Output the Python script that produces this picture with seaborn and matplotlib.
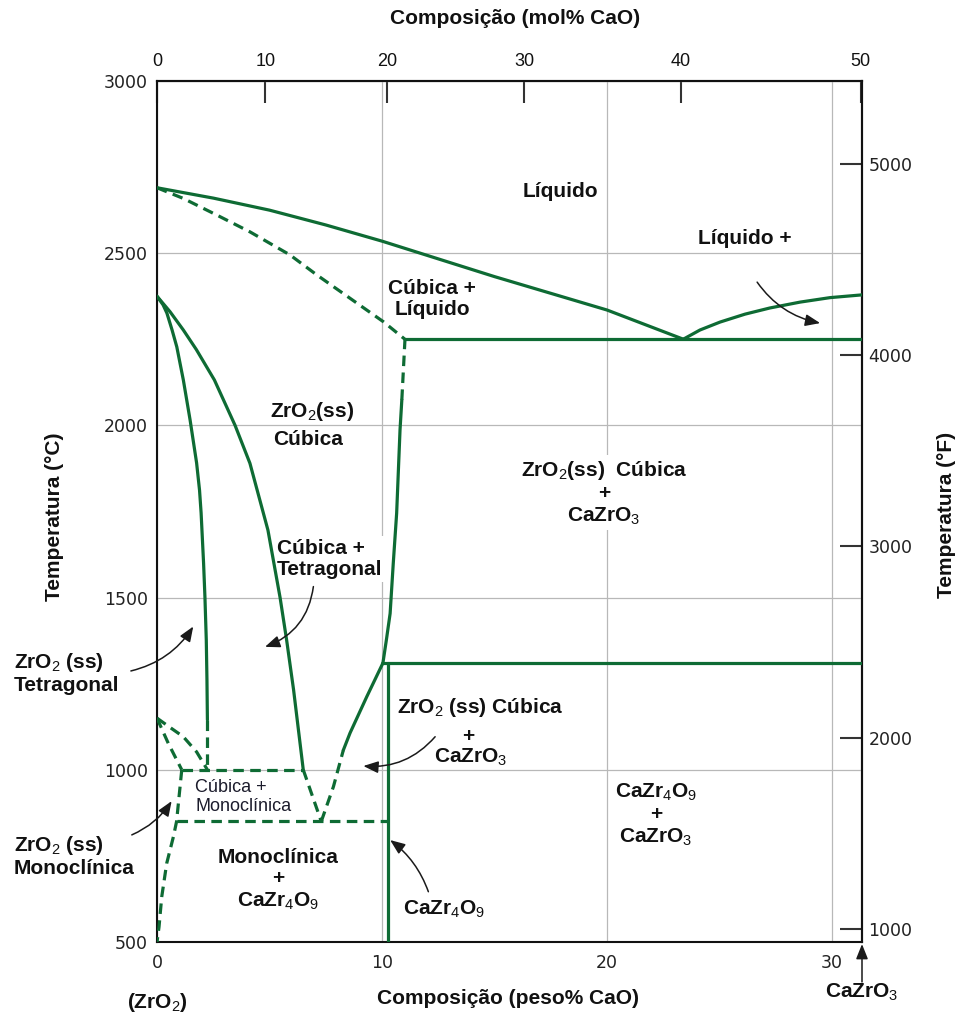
import numpy as np
import matplotlib
matplotlib.use("Agg")
import matplotlib.pyplot as plt
import seaborn as sns
from matplotlib import font_manager

# ---------------- phase boundaries: composition (wt% CaO), temperature (°C) ----------------
liquidus_zro2_wt = [0, 2.5, 5, 7.5, 10, 15, 20, 23.4]
liquidus_zro2_t = [2690, 2660, 2625, 2582, 2535, 2432, 2335, 2250]

liquidus_cazro3_wt = [23.38, 24.13, 25.02, 26.13, 27.24, 28.58, 29.91, 31.33]
liquidus_cazro3_t = [2250, 2277, 2300, 2323, 2341, 2358, 2371, 2379]

solidus_cubic_wt = [0, 1.17, 2.65, 4.13, 5.91, 7.1, 8.58, 10.06, 11.02]
solidus_cubic_t = [2690, 2659, 2611, 2562, 2495, 2437, 2369, 2301, 2250]

eutectic_wt = [11.02, 31.33]
eutectic_t = [2250, 2250]

# cubic solvus towards CaZrO3
cubic_solvus_top_wt = [10.88, 11.02]
cubic_solvus_top_t = [2074, 2250]
cubic_solvus_wt = [8.28, 8.58, 9.32, 10.04, 10.2, 10.36, 10.5, 10.65, 10.8, 10.88]
cubic_solvus_t = [1057, 1107, 1212, 1310, 1380, 1454, 1600, 1745, 1987, 2074]
cubic_solvus_low_wt = [7.3, 7.84, 8.28]
cubic_solvus_low_t = [850, 951, 1057]

# tetragonal / cubic+tetragonal boundary
tetragonal_wt = [0, 0.27, 0.44, 0.67, 0.88, 1.17, 1.47, 1.76, 1.89, 1.96, 2.07,
                 2.13, 2.19, 2.22, 2.24]
tetragonal_t = [2375, 2350, 2326, 2277, 2228, 2132, 2016, 1891, 1812, 1746, 1600,
                1502, 1377, 1261, 1145]
tetragonal_low_wt = [2.24, 2.24]
tetragonal_low_t = [1145, 1000]

# cubic+tetragonal / cubic boundary
cubic_tetra_wt = [0, 0.58, 1.17, 1.75, 2.55, 3.47, 4.13, 4.93, 5.47, 5.76, 6.07, 6.5]
cubic_tetra_t = [2375, 2330, 2277, 2220, 2132, 2000, 1890, 1696, 1500, 1377, 1232, 1000]
cubic_tetra_low_wt = [6.5, 7.3]
cubic_tetra_low_t = [1000, 850]

# tetragonal -> monoclinic transformation
transform_upper_wt = [0, 0.58, 1.17, 1.76, 2.24]
transform_upper_t = [1150, 1123, 1096, 1052, 1000]
transform_lower_wt = [0, 0.5, 1.1]
transform_lower_t = [1150, 1077, 1000]

monoclinic_wt = [1.1, 0.87, 0.73, 0.43, 0.21, 0.09, 0]
monoclinic_t = [1000, 850, 806, 728, 631, 544, 500]

iso_1000_wt = [1.1, 6.5]
iso_1000_t = [1000, 1000]
iso_850_wt = [0.87, 10.25]
iso_850_t = [850, 850]

cazr4o9_wt = [10.25, 10.25]
cazr4o9_t = [500, 1310]
iso_1310_wt = [10.0, 31.33]
iso_1310_t = [1310, 1310]

# ---------------- axes ticks ----------------
wt_ticks = [0, 10, 20, 30]
wt_labels = ["0", "10", "20", "30"]
mol_ticks = [0, 10, 20, 30, 40, 50]
mol_labels = ["0", "10", "20", "30", "40", "50"]
c_ticks = [500, 1000, 1500, 2000, 2500, 3000]
c_labels = ["500", "1000", "1500", "2000", "2500", "3000"]
f_ticks = [1000, 2000, 3000, 4000, 5000]
f_labels = ["1000", "2000", "3000", "4000", "5000"]

M_CAO, M_ZRO2 = 56.08, 123.22


def wt_to_mol(w):
    w = np.asarray(w, dtype=float)
    n_cao = w / M_CAO
    n_zro2 = (100.0 - w) / M_ZRO2
    with np.errstate(divide="ignore", invalid="ignore"):
        return 100.0 * n_cao / (n_cao + n_zro2)


def mol_to_wt(m):
    m = np.asarray(m, dtype=float)
    g_cao = m * M_CAO
    g_zro2 = (100.0 - m) * M_ZRO2
    with np.errstate(divide="ignore", invalid="ignore"):
        return 100.0 * g_cao / (g_cao + g_zro2)


def c_to_f(c):
    return np.asarray(c, dtype=float) * 9.0 / 5.0 + 32.0


def f_to_c(f):
    return (np.asarray(f, dtype=float) - 32.0) * 5.0 / 9.0


# ---------------- style ----------------
sns.set_style("white")
plt.rcParams["font.family"] = ["DejaVu Sans"]
plt.rcParams["mathtext.fontset"] = "custom"
plt.rcParams["mathtext.rm"] = "Liberation Sans"
plt.rcParams["mathtext.default"] = "rm"

installed = {f.name for f in font_manager.fontManager.ttflist}
HAS_NARROW = "Liberation Sans Narrow" in installed
NARROW = ["Liberation Sans Narrow", "Liberation Sans"]
TITLE_SIZE = 18 if HAS_NARROW else 15
TOP_TICK_SIZE = 15 if HAS_NARROW else 13

GREEN = "#0e6b34"
GRID = "#b8b8b8"
INK = "#111111"
LW = 2.3
DASH = (0, (3.3, 2.0))

fig = plt.figure(figsize=(9.6, 10.19), dpi=100)
fig.patch.set_facecolor("white")
ax = fig.add_axes([157 / 960, 1 - 942 / 1019, 705 / 960, 861 / 1019])
ax.set_xlim(0, 31.33)
ax.set_ylim(500, 3000)

ax.set_xticks(wt_ticks)
ax.set_xticklabels(wt_labels)
ax.set_yticks(c_ticks)
ax.set_yticklabels(c_labels)
ax.grid(True, color=GRID, lw=0.9)
ax.set_axisbelow(True)
ax.tick_params(axis="both", which="both", direction="in", length=15.5, width=1.5,
               color="#222222", labelcolor="#222222", labelsize=12.5,
               top=False, right=False)
ax.tick_params(axis="y", pad=6.5)
ax.tick_params(axis="x", pad=9)
for s in ax.spines.values():
    s.set_color("#111111")
    s.set_linewidth(1.5)


def boundary(xs, ys, dashed=False):
    kw = dict(linestyle=DASH) if dashed else {}
    sns.lineplot(x=xs, y=ys, ax=ax, sort=False, estimator=None, color=GREEN,
                 lw=LW, zorder=4, **kw)


boundary(liquidus_zro2_wt, liquidus_zro2_t)
boundary(liquidus_cazro3_wt, liquidus_cazro3_t)
boundary(solidus_cubic_wt, solidus_cubic_t, dashed=True)
boundary(eutectic_wt, eutectic_t)
boundary(cubic_solvus_top_wt, cubic_solvus_top_t, dashed=True)
boundary(cubic_solvus_wt, cubic_solvus_t)
boundary(cubic_solvus_low_wt, cubic_solvus_low_t, dashed=True)
boundary(tetragonal_wt, tetragonal_t)
boundary(tetragonal_low_wt, tetragonal_low_t, dashed=True)
boundary(cubic_tetra_wt, cubic_tetra_t)
boundary(cubic_tetra_low_wt, cubic_tetra_low_t, dashed=True)
boundary(transform_upper_wt, transform_upper_t, dashed=True)
boundary(transform_lower_wt, transform_lower_t, dashed=True)
boundary(monoclinic_wt, monoclinic_t, dashed=True)
boundary(iso_1000_wt, iso_1000_t, dashed=True)
boundary(iso_850_wt, iso_850_t, dashed=True)
boundary(cazr4o9_wt, cazr4o9_t)
boundary(iso_1310_wt, iso_1310_t)
ax.set_xlabel("")
ax.set_ylabel("")

# ---------------- secondary scales ----------------
top = ax.secondary_xaxis("top", functions=(wt_to_mol, mol_to_wt))
top.set_xticks(mol_ticks)
top.set_xticklabels(mol_labels)
top.tick_params(direction="in", length=15.5, width=1.5, color="#333333",
                labelcolor="#111111", labelsize=TOP_TICK_SIZE, pad=8)
for lab in top.get_xticklabels():
    lab.set_fontfamily(NARROW)

right = ax.secondary_yaxis("right", functions=(c_to_f, f_to_c))
right.set_yticks(f_ticks)
right.set_yticklabels(f_labels)
right.tick_params(direction="in", length=15.5, width=1.5, color="#333333",
                  labelcolor="#222222", labelsize=12.5, pad=4.5)
for sec in (top, right):
    for s in sec.spines.values():
        s.set_color("#111111")
        s.set_linewidth(1.5)

# ---------------- axis titles ----------------
title_kw = dict(fontsize=TITLE_SIZE, fontweight="bold", family=NARROW, color=INK,
                ha="center", va="center")
fig.text(515 / 960, 1 - 18 / 1019, "Composição (mol% CaO)", **title_kw)
fig.text(508 / 960, 1 - 998 / 1019, "Composição (peso% CaO)", **title_kw)
fig.text(55 / 960, 1 - 517 / 1019, "Temperatura (°C)", rotation=90, **title_kw)
fig.text(946 / 960, 1 - 515 / 1019, "Temperatura (°F)", rotation=90, **title_kw)

# ---------------- phase labels ----------------
BOLD = dict(fontsize=15, fontweight="bold", family="Liberation Sans", color=INK,
            zorder=3, linespacing=1.15)
BOX = dict(boxstyle="square,pad=0.15", fc="white", ec="none")

ax.text(17.91, 2678, "Líquido", ha="center", va="center", **BOLD)
ax.text(26.13, 2544, "Líquido +", ha="center", va="center", bbox=BOX, **BOLD)
ax.text(12.22, 2367, "Cúbica +\nLíquido", ha="center", va="center",
        multialignment="center", **BOLD)
ax.text(6.9, 2040, "ZrO$_2$(ss)", ha="center", va="center", **BOLD)
ax.text(6.7, 1958, "Cúbica", ha="center", va="center", **BOLD)
ax.text(19.87, 1804, "ZrO$_2$(ss)  Cúbica\n+\nCaZrO$_3$", ha="center", va="center",
        multialignment="center", bbox=BOX, **BOLD)
ax.text(5.33, 1612, "Cúbica +\nTetragonal", ha="left", va="center",
        multialignment="left", bbox=BOX, **BOLD)
ax.text(-6.36, 1281, "ZrO$_2$ (ss)\nTetragonal", ha="left", va="center",
        multialignment="left", **BOLD)
ax.text(-6.36, 750, "ZrO$_2$ (ss)\nMonoclínica", ha="left", va="center",
        multialignment="left", **BOLD)
ax.text(1.69, 921, "Cúbica +\nMonoclínica", ha="left", va="center",
        multialignment="left", fontsize=13, family="Liberation Sans",
        color="#1c1c2c", zorder=3, linespacing=1.1)
ax.text(5.4, 680, "Monoclínica\n+\nCaZr$_4$O$_9$", ha="center", va="center",
        multialignment="center", **BOLD)
ax.text(14.36, 1180, "ZrO$_2$ (ss) Cúbica", ha="center", va="center", **BOLD)
ax.text(13.82, 1098, "+", ha="center", va="center", **BOLD)
ax.text(13.96, 1037, "CaZrO$_3$", ha="center", va="center", **BOLD)
ax.text(22.18, 869, "CaZr$_4$O$_9$\n+\nCaZrO$_3$", ha="center", va="center",
        multialignment="center", bbox=BOX, **BOLD)
ax.text(12.78, 596, "CaZr$_4$O$_9$", ha="center", va="center", **BOLD)
ax.text(31.33, 355, "CaZrO$_3$", ha="center", va="center", **BOLD)
ax.text(0, 323, "(ZrO$_2$)", ha="center", va="center", **BOLD)

# ---------------- pointer arrows ----------------
def pointer(tail, head, rad):
    ax.annotate("", xy=head, xytext=tail, annotation_clip=False, zorder=5,
                arrowprops=dict(arrowstyle="-|>,head_length=0.5,head_width=0.2",
                                mutation_scale=18, color="#1a1a1a", lw=1.1,
                                shrinkA=0, shrinkB=0,
                                connectionstyle=f"arc3,rad={rad}"))


pointer((26.67, 2416), (29.47, 2297), 0.2)
pointer((-1.16, 1287), (1.61, 1416), 0.2)
pointer((6.95, 1532), (4.8, 1357), -0.3)
pointer((12.36, 1096), (9.17, 1011), -0.25)
pointer((-1.12, 811), (0.65, 909), 0.15)
pointer((12.06, 646), (10.36, 796), 0.15)
pointer((31.33, 384), (31.33, 494), 0.0)

fig.savefig("out.png", dpi=100, facecolor="white")
